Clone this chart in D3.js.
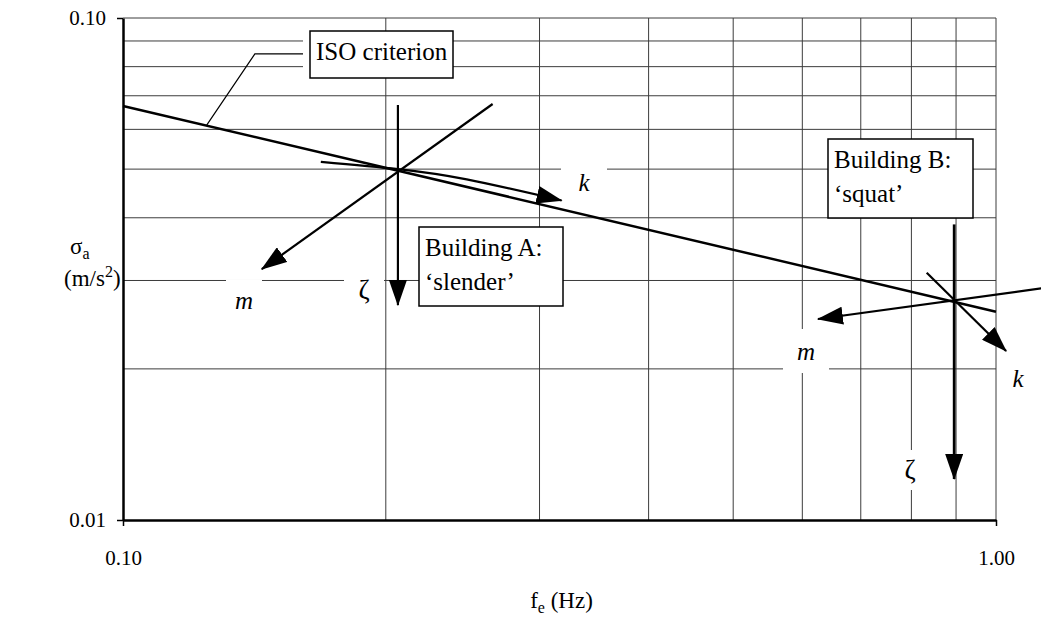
<!DOCTYPE html>
<html>
<head>
<meta charset="utf-8">
<script src="https://cdn.jsdelivr.net/npm/d3@7"></script>
<style>
  body { margin: 0; background: #fff; }
  svg text { font-family: "Liberation Serif", "Times New Roman", serif; fill: #000; }
</style>
</head>
<body>
<svg id="chart" width="1041" height="617"></svg>
<script>
// ---- data ---------------------------------------------------------------
const xTickValues = [0.1, 1.0];
const yTickValues = [0.01, 0.1];
const xGridValues = [0.2, 0.3, 0.4, 0.5, 0.6, 0.7, 0.8, 0.9, 1.0];
const yGridValues = [0.02, 0.03, 0.04, 0.05, 0.06, 0.07, 0.08, 0.09, 0.1];

// ISO comfort criterion (straight in log-log space): [f (Hz), sigma (m/s^2)]
const isoCriterion = [[0.1, 0.0668], [1.0, 0.0260]];
const isoLeader = [[0.1247, 0.0612], [0.1416, 0.0848], [0.1608, 0.0848]];

// Building A ('slender'): sensitivity directions from its design point
const buildingAZeta  = [[0.2065, 0.0671], [0.2065, 0.0268]];
const buildingAMass  = [[0.2651, 0.0674], [0.1442, 0.0316]];
const buildingAStiff = [[0.1685, 0.0517], [0.2065, 0.0500], [0.2476, 0.0477], [0.318, 0.0433]];

// Building B ('squat')
const buildingBZeta  = [[0.8955, 0.0388], [0.8955, 0.01207]];
const buildingBMass  = [[1.127, 0.02894], [0.6252, 0.02514]];
const buildingBStiff = [[0.833, 0.03109], [1.027, 0.02171]];

// ---- layout -------------------------------------------------------------
const plot = { left: 123, right: 996, top: 18, bottom: 520 };

const svg = d3.select("#chart");
const x = d3.scaleLog().domain([0.1, 1.0]).range([plot.left, plot.right]);
const y = d3.scaleLog().domain([0.01, 0.1]).range([plot.bottom, plot.top]);
const line = d3.line().x(d => x(d[0])).y(d => y(d[1]));

// arrowhead marker
svg.append("defs").append("marker")
  .attr("id", "head")
  .attr("markerUnits", "userSpaceOnUse")
  .attr("viewBox", "0 0 26 18")
  .attr("markerWidth", 26).attr("markerHeight", 18)
  .attr("refX", 25).attr("refY", 9)
  .attr("orient", "auto")
  .append("path").attr("d", "M0,0 L26,9 L0,18 Z").attr("fill", "#000");

// ---- grid ---------------------------------------------------------------
const grid = svg.append("g").attr("stroke", "#3c3c3c").attr("stroke-width", 1);
grid.selectAll("line.v").data(xGridValues).join("line")
  .attr("x1", d => x(d)).attr("x2", d => x(d))
  .attr("y1", plot.top).attr("y2", plot.bottom);
grid.selectAll("line.h").data(yGridValues).join("line")
  .attr("x1", plot.left).attr("x2", plot.right)
  .attr("y1", d => y(d)).attr("y2", d => y(d));

// ---- direction labels (white backgrounds break the grid) -----------------
const dirLabels = [
  { t: "k", cx: 584, cy: 182, bw: 46, bh: 30, italic: true },
  { t: "m", cx: 244, cy: 300, bw: 36, bh: 40, italic: true },
  { t: "ζ", cx: 364, cy: 290, bw: 40, bh: 44, italic: false },
  { t: "m", cx: 806, cy: 351, bw: 46, bh: 44, italic: true },
  { t: "k", cx: 1018, cy: 378, bw: 30, bh: 30, italic: true },
  { t: "ζ", cx: 910, cy: 470, bw: 30, bh: 40, italic: false }
];
svg.append("g").selectAll("rect").data(dirLabels).join("rect")
  .attr("x", d => d.cx - d.bw / 2).attr("y", d => d.cy - d.bh / 2)
  .attr("width", d => d.bw).attr("height", d => d.bh)
  .attr("fill", "#fff");

// ---- axes ---------------------------------------------------------------
const yAxis = d3.axisLeft(y).tickValues(yTickValues).tickFormat(d3.format(".2f"))
  .tickSize(6).tickSizeOuter(0).tickPadding(11);
const gy = svg.append("g").attr("transform", `translate(${plot.left},0)`).call(yAxis);
const xAxis = d3.axisBottom(x).tickValues(xTickValues).tickFormat(d3.format(".2f"))
  .tickSize(6).tickSizeOuter(0).tickPadding(24);
const gx = svg.append("g").attr("transform", `translate(0,${plot.bottom})`).call(xAxis);
[gx, gy].forEach(g => {
  g.selectAll("text").style("font-size", "21px").attr("fill", "#000");
  g.selectAll("line").attr("stroke", "#000").attr("stroke-width", 1.5);
  g.select(".domain").attr("stroke", "#000").attr("stroke-width", 2.5);
});

// ---- ISO criterion ------------------------------------------------------
svg.append("path").datum(isoCriterion).attr("d", line)
  .attr("fill", "none").attr("stroke", "#000").attr("stroke-width", 2.5);
svg.append("path").datum(isoLeader).attr("d", line)
  .attr("fill", "none").attr("stroke", "#000").attr("stroke-width", 1.2);

// ---- sensitivity arrows -------------------------------------------------
const arrows = [
  { pts: buildingAZeta, curve: d3.curveLinear, w: 2.2 },
  { pts: buildingAMass, curve: d3.curveLinear, w: 2.2 },
  { pts: buildingAStiff, curve: d3.curveNatural, w: 2.2 },
  { pts: buildingBZeta, curve: d3.curveLinear, w: 2.7 },
  { pts: buildingBMass, curve: d3.curveLinear, w: 2.2 },
  { pts: buildingBStiff, curve: d3.curveLinear, w: 2.2 }
];
svg.append("g").selectAll("path").data(arrows).join("path")
  .attr("d", d => line.curve(d.curve)(d.pts))
  .attr("fill", "none").attr("stroke", "#000").attr("stroke-width", d => d.w)
  .attr("marker-end", "url(#head)");

svg.append("g").selectAll("text").data(dirLabels).join("text")
  .attr("x", d => d.cx).attr("y", d => d.cy)
  .attr("text-anchor", "middle").attr("dominant-baseline", "central")
  .style("font-size", d => d.italic ? "25px" : "27px")
  .style("font-style", d => d.italic ? "italic" : "normal")
  .text(d => d.t);

// ---- boxed annotations --------------------------------------------------
const boxes = [
  { lines: ["ISO criterion"], x: 310, y: 31, w: 143, h: 47, padL: 7 },
  { lines: ["Building A:", "‘slender’"], x: 419, y: 227, w: 144, h: 79, padL: 0 },
  { lines: ["Building B:", "‘squat’"], x: 828, y: 139, w: 145, h: 79, padL: 0 }
];
const bg = svg.append("g").selectAll("g").data(boxes).join("g");
bg.append("rect").attr("x", d => d.x - d.padL).attr("y", d => d.y)
  .attr("width", d => d.w + d.padL).attr("height", d => d.h).attr("fill", "#fff");
bg.append("rect").attr("x", d => d.x).attr("y", d => d.y)
  .attr("width", d => d.w).attr("height", d => d.h)
  .attr("fill", "#fff").attr("stroke", "#000").attr("stroke-width", 1.5);
bg.each(function (d) {
  const g = d3.select(this);
  d.lines.forEach((t, i) => {
    g.append("text").attr("x", d.x + 6).attr("y", d.y + 29 + i * 34)
      .style("font-size", "25px").text(t);
  });
});

// ---- axis titles --------------------------------------------------------
const yTitle = svg.append("text").style("font-size", "23px");
yTitle.append("tspan").attr("x", 70).attr("y", 254).text("σ");
yTitle.append("tspan").style("font-size", "16px").attr("dy", 5).text("a");
const yTitle2 = svg.append("text").style("font-size", "23px").attr("x", 64).attr("y", 286);
yTitle2.append("tspan").text("(m/s");
yTitle2.append("tspan").style("font-size", "16px").attr("dy", -9).text("2");
yTitle2.append("tspan").attr("dy", 9).text(")");

const xTitle = svg.append("text").style("font-size", "23px")
  .attr("x", (plot.left + plot.right) / 2 + 2).attr("y", 608).attr("text-anchor", "middle");
xTitle.append("tspan").text("f");
xTitle.append("tspan").style("font-size", "16px").attr("dy", 5).text("e");
xTitle.append("tspan").attr("dy", -5).text(" (Hz)");
</script>
</body>
</html>
